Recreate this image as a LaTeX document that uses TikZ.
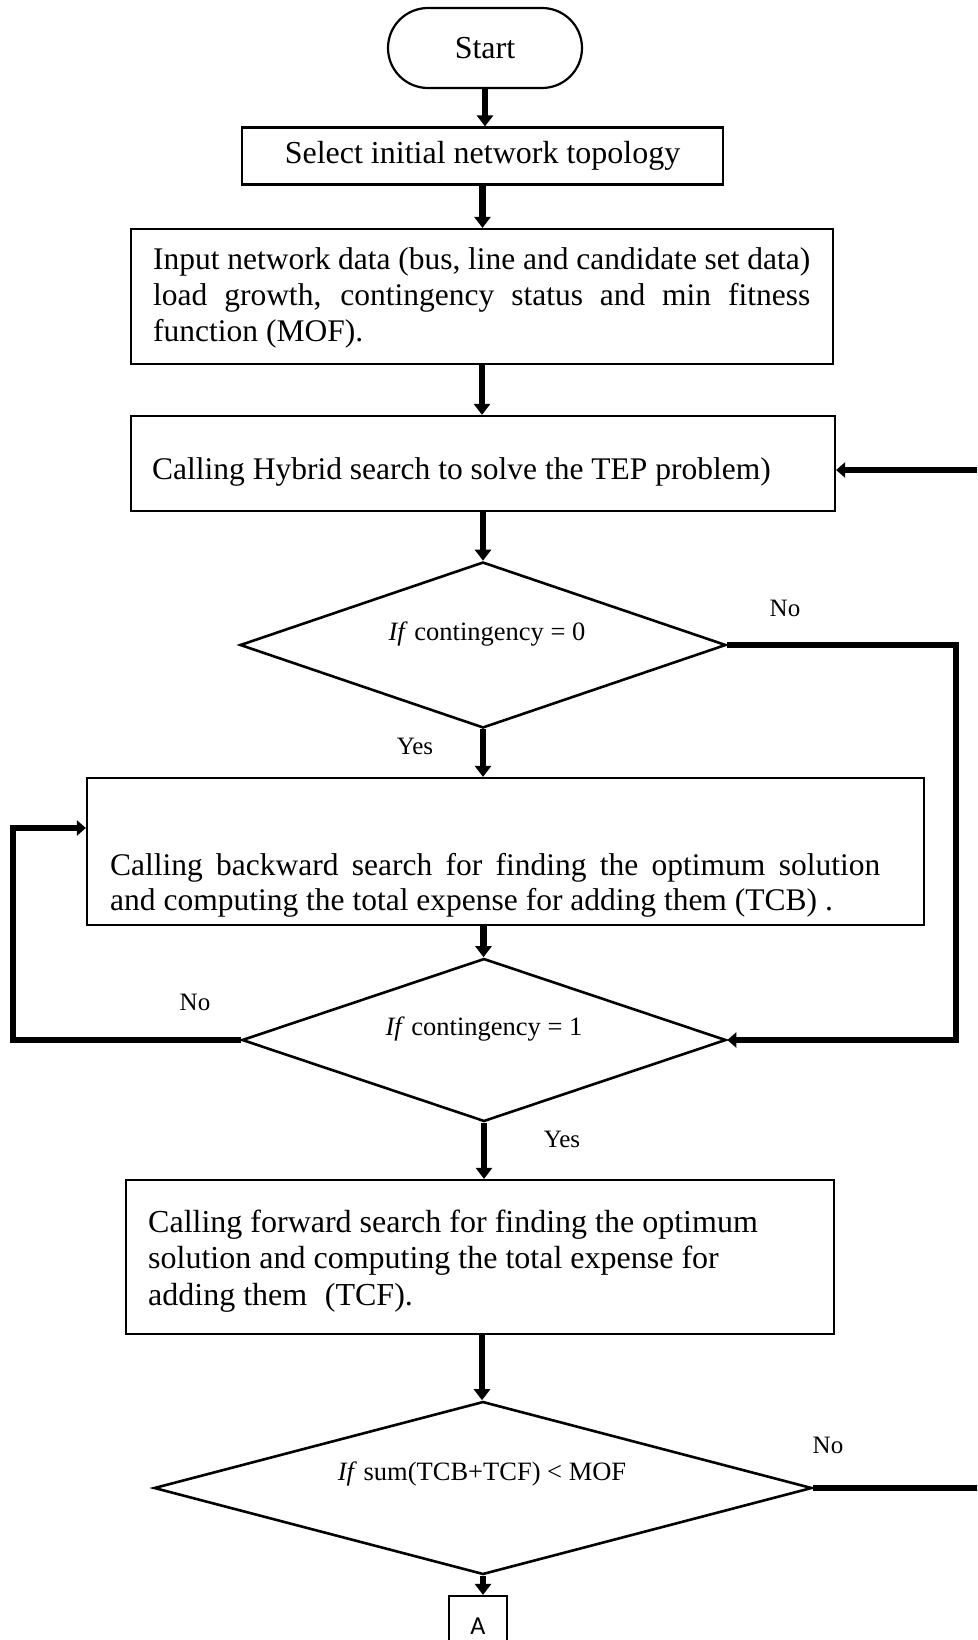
\documentclass[tikz,border=0pt]{standalone}
\usepackage{fontspec}
\setmainfont{Liberation Serif}
\newfontfamily\labelsans{Carlito}
\usetikzlibrary{arrows.meta,shapes.geometric}

\begin{document}
\begin{tikzpicture}[x=1pt,y=-1pt,
  box/.style={draw,line width=2.2pt,inner sep=0pt,font=\fontsize{32}{36.5}\selectfont},
  decision/.style={draw,diamond,line width=2.6pt,inner sep=0pt},
  bodytext/.style={inner sep=0pt,anchor=base west,font=\fontsize{31.5}{36.5}\selectfont},
  widetext/.style={bodytext,font=\fontsize{32}{36.5}\selectfont},
  condtext/.style={inner sep=0pt,anchor=base,font=\fontsize{26.5}{30}\selectfont},
  answer/.style={inner sep=0pt,font=\fontsize{25}{28}\selectfont},
  flow/.style={line width=6.5pt,-{Triangle[width=16pt,length=11pt]}},
  backline/.style={line width=5.5pt,line join=miter},
  backarrow/.style={backline,-{Triangle[width=15pt,length=9pt]}}
]
\clip (0,0) rectangle (977,1640);

% terminal and process boxes
\node[box,rounded corners=40pt,minimum width=194pt,minimum height=80pt] (start) at (485,48) {Start};
\node[box,minimum width=481pt,minimum height=57pt] (select) at (482.5,156) {Select initial network topology};
\node[box,minimum width=702pt,minimum height=135pt] (input) at (482,296.5) {};
\node[box,minimum width=704pt,minimum height=95pt] (hybrid) at (483,463.5) {};
\node[box,minimum width=837pt,minimum height=147pt] (back) at (505.5,851.5) {};
\node[box,minimum width=708pt,minimum height=154pt] (fwd) at (480,1257) {};
\node[box,minimum width=58pt,minimum height=60pt,font=\labelsans\fontsize{26}{28}\selectfont] (abox) at (478,1626) {A};

% box texts
\node[bodytext] (in1) at (153,269) {\makebox[657pt][s]{Input network data (bus, line and candidate set data)}};
\node[bodytext] (in2) at (153,305) {\makebox[657pt][s]{load growth, contingency status and min fitness}};
\node[bodytext] (in3) at (153,341) {function (MOF).};
\node[bodytext] (hy1) at (152,479) {Calling Hybrid search to solve the TEP problem)};
\node[bodytext] (bk1) at (110,875) {\makebox[770pt][s]{Calling backward search for finding the optimum solution}};
\node[bodytext] (bk2) at (110,910) {and computing the total expense for adding them (TCB) .};
\node[widetext] (fw1) at (148,1232) {Calling forward search for finding the optimum};
\node[widetext] (fw2) at (148,1268) {solution and computing the total expense for};
\node[widetext] (fw3) at (148,1305) {adding them\hspace{0.3em} (TCF).};

% decisions
\node[decision,minimum width=486pt,minimum height=166pt] (d1) at (483,645) {};
\node[decision,minimum width=484pt,minimum height=163pt] (d2) at (484,1040) {};
\node[decision,minimum width=658pt,minimum height=173pt] (d3) at (483,1488) {};
\node[condtext] (c1) at (487,640) {\textit{If} contingency = 0};
\node[condtext] (c2) at (484,1035) {\textit{If} contingency = 1};
\node[condtext] (c3) at (482,1480) {\textit{If} sum(TCB+TCF) < MOF};

% branch labels
\node[answer] (no1) at (785,608) {No};
\node[answer] (yes1) at (415,746) {Yes};
\node[answer] (no2) at (195,1002) {No};
\node[answer] (yes2) at (562,1139) {Yes};
\node[answer] (no3) at (828,1445) {No};

% main downward flow
\draw[flow] (start.south) -- (start.south |- select.north);
\draw[flow] (select.south) -- (select.south |- input.north);
\draw[flow] (input.south) -- (input.south |- hybrid.north);
\draw[flow] (hybrid.south) -- (hybrid.south |- d1.north);
\draw[flow] (d1.south) -- (d1.south |- back.north);
\draw[flow] ([xshift=-22pt]back.south) -- ([xshift=-22pt]back.south |- d2.north);
\draw[flow] (d2.south) -- (d2.south |- fwd.north);
\draw[flow] ([xshift=2pt]fwd.south) -- ([xshift=2pt]fwd.south |- d3.north);
\draw[flow] (d3.south) -- (d3.south |- abox.north);

% feedback and bypass lines
\coordinate (rin) at (977,470);
\draw[backarrow] (rin) -- (rin -| hybrid.east);

\coordinate (r1) at (956,643);
\draw[backarrow] (d1.east) -- (d1.east -| r1) -- (r1 |- d2.east) -- (d2.east);

\coordinate (l1) at (13,828);
\draw[backarrow] (d2.west) -- (d2.west -| l1) -- (l1) -- (l1 -| back.west);

\coordinate (r3) at (980,1488);
\draw[backline] (d3.east) -- (r3);
\end{tikzpicture}
\end{document}
